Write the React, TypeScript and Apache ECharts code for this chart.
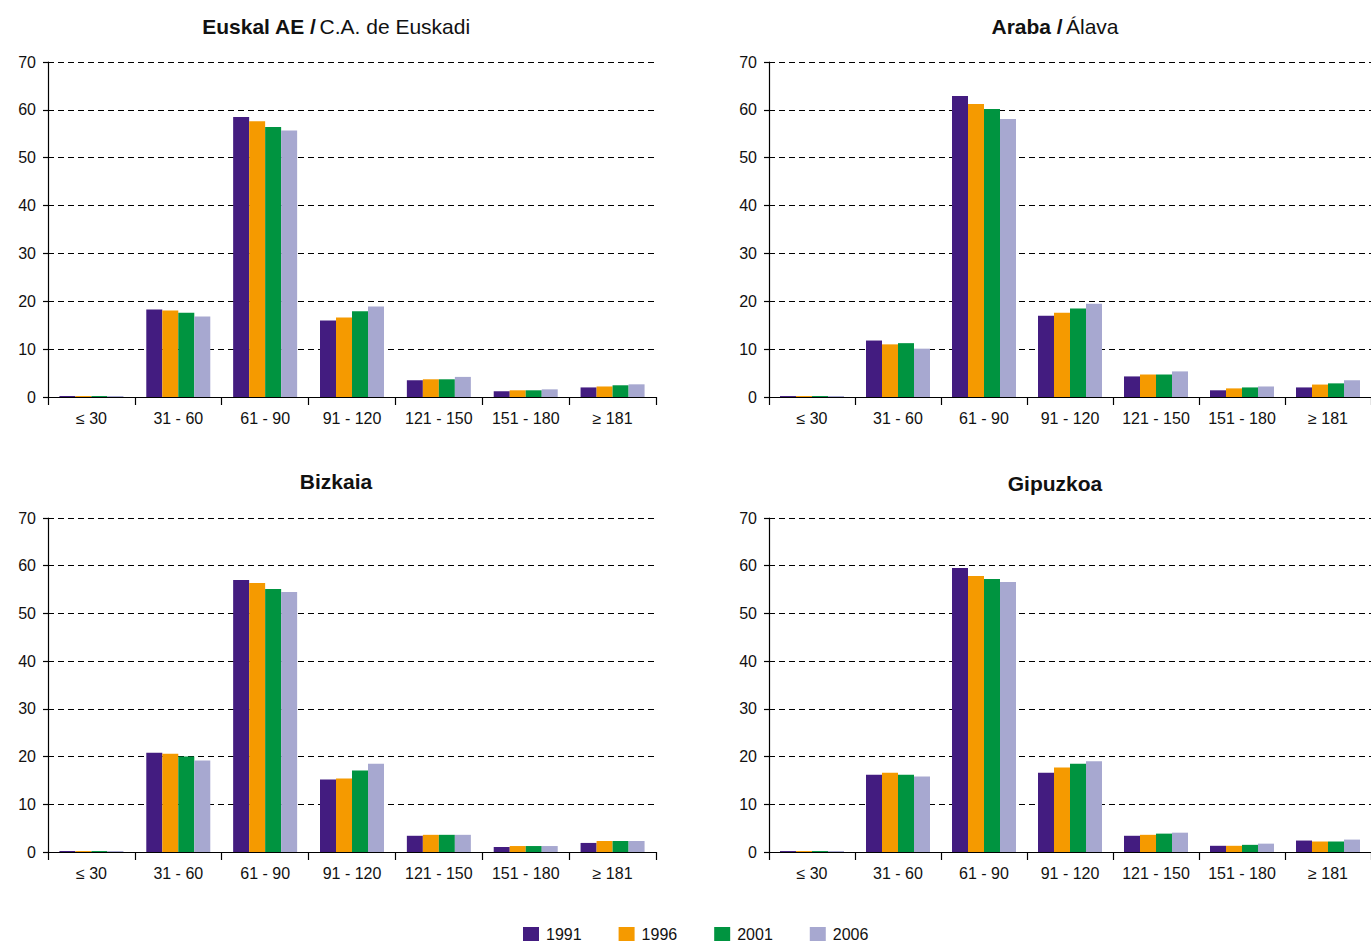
import React, { useEffect, useRef } from "react";
import * as echarts from "echarts";

// Age-group categories shared by all four panels
const categories = ["≤ 30", "31 - 60", "61 - 90", "91 - 120", "121 - 150", "151 - 180", "≥ 181"];
const years = ["1991", "1996", "2001", "2006"];
const yearColors = ["#431C80", "#F59A00", "#009440", "#A7A8D0"];
const yTicks = [0, 10, 20, 30, 40, 50, 60, 70];

// Percentages per year (rows: 1991, 1996, 2001, 2006)
const euskadiValues = [
  [0.2, 18.3, 58.5, 16.0, 3.5, 1.2, 2.0],
  [0.2, 18.1, 57.6, 16.6, 3.7, 1.4, 2.2],
  [0.2, 17.6, 56.4, 17.9, 3.7, 1.4, 2.45],
  [0.2, 16.8, 55.7, 18.9, 4.2, 1.6, 2.65],
];
const arabaValues = [
  [0.2, 11.8, 62.9, 17.0, 4.3, 1.4, 2.0],
  [0.2, 11.0, 61.2, 17.6, 4.7, 1.8, 2.6],
  [0.2, 11.25, 60.2, 18.5, 4.7, 2.0, 2.85],
  [0.2, 10.1, 58.1, 19.5, 5.35, 2.2, 3.5],
];
const bizkaiaValues = [
  [0.2, 20.8, 57.0, 15.2, 3.4, 1.05, 1.9],
  [0.2, 20.6, 56.4, 15.4, 3.6, 1.25, 2.3],
  [0.2, 20.0, 55.1, 17.1, 3.6, 1.25, 2.3],
  [0.2, 19.2, 54.5, 18.5, 3.6, 1.25, 2.3],
];
const gipuzkoaValues = [
  [0.2, 16.2, 59.5, 16.6, 3.4, 1.3, 2.4],
  [0.2, 16.6, 57.85, 17.7, 3.6, 1.3, 2.2],
  [0.2, 16.2, 57.2, 18.5, 3.85, 1.5, 2.2],
  [0.2, 15.8, 56.6, 19.0, 4.05, 1.75, 2.6],
];

const FONT = '"Liberation Sans", Arial, Helvetica, sans-serif';

const panels = [
  { values: euskadiValues, bold: "Euskal AE /", normal: "C.A. de Euskadi", left: 48, top: 62, width: 608, height: 335, titleX: 336, titleY: 26 },
  { values: arabaValues, bold: "Araba /", normal: "Álava", left: 769, top: 62, width: 603, height: 335, titleX: 1055, titleY: 26 },
  { values: bizkaiaValues, bold: "Bizkaia", normal: "", left: 48, top: 518, width: 608, height: 334, titleX: 336, titleY: 481 },
  { values: gipuzkoaValues, bold: "Gipuzkoa", normal: "", left: 769, top: 518, width: 603, height: 334, titleX: 1055, titleY: 483 },
];

export default function App() {
  const ref = useRef<HTMLDivElement>(null);

  useEffect(() => {
    if (!ref.current) return;
    const chart = echarts.init(ref.current, null, { renderer: "svg" });

    const grid = panels.map((p) => ({
      left: p.left,
      top: p.top,
      width: p.width,
      height: p.height,
      containLabel: false,
    }));

    const xAxis = panels.map((_, i) => ({
      type: "category",
      gridIndex: i,
      data: categories,
      boundaryGap: true,
      axisLine: { show: true, lineStyle: { color: "#000", width: 1.2 } },
      axisTick: { show: true, length: 8, lineStyle: { color: "#000", width: 1.2 } },
      axisLabel: { color: "#111", fontSize: 16, fontFamily: FONT, margin: 13, interval: 0 },
      splitLine: { show: false },
    }));

    const yAxis = panels.map((_, i) => ({
      type: "value",
      gridIndex: i,
      min: yTicks[0],
      max: yTicks[yTicks.length - 1],
      interval: 10,
      axisLine: { show: true, lineStyle: { color: "#000", width: 1.2 } },
      axisTick: { show: true, length: 5, lineStyle: { color: "#000", width: 1.2 } },
      axisLabel: { color: "#111", fontSize: 16, fontFamily: FONT, margin: 12 },
      splitLine: { show: true, lineStyle: { color: "#000", width: 1, type: [6, 4] } },
    }));

    const series: any[] = [];
    panels.forEach((p, i) => {
      years.forEach((year, j) => {
        series.push({
          type: "bar",
          name: year,
          xAxisIndex: i,
          yAxisIndex: i,
          data: p.values[j],
          barWidth: 16,
          barGap: "0%",
          itemStyle: { color: yearColors[j] },
        });
      });
    });

    const graphic = panels.map((p) => ({
      type: "text",
      x: p.titleX,
      y: p.titleY,
      style: {
        text: p.normal ? `{b|${p.bold}} {n|${p.normal}}` : `{b|${p.bold}}`,
        align: "center",
        verticalAlign: "middle",
        rich: {
          b: { fontSize: 21, fontWeight: "bold", fontFamily: FONT, fill: "#111" },
          n: { fontSize: 21, fontWeight: "normal", fontFamily: FONT, fill: "#111" },
        },
      },
    }));

    chart.setOption({
      animation: false,
      backgroundColor: "#fff",
      grid,
      xAxis,
      yAxis,
      series,
      graphic,
      legend: {
        data: years,
        left: 523,
        top: 926,
        padding: 0,
        itemWidth: 16,
        itemHeight: 14,
        itemGap: 37,
        icon: "rect",
        textStyle: { fontSize: 16, fontFamily: FONT, color: "#111", lineHeight: 14, padding: [0, 0, 0, 2] },
        selectedMode: false,
      },
    });

    return () => chart.dispose();
  }, []);

  return (
    <div
      ref={ref}
      style={{ position: "fixed", left: 0, top: 0, width: 1371, height: 942, background: "#fff" }}
    />
  );
}
